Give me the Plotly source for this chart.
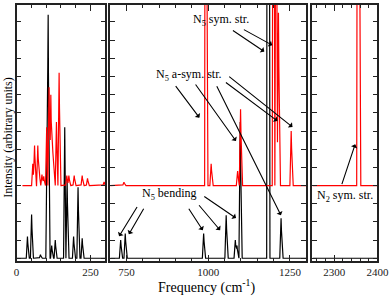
import numpy as np
import plotly.graph_objects as go

# ---- data (peak positions in cm^-1, heights in arbitrary units) ----
black_p1_pos = [37, 51, 81, 103, 107, 119, 131, 163, 171, 193, 208, 222]
black_p1_h   = [1.2, 2.4, 0.2, 4.5, 13.4, 0.7, 1.0, 7.2, 4.3, 1.2, 3.9, 1.1]
red_p1_pos   = [55, 61, 72, 77, 86, 92, 102, 110, 116, 121, 126, 135, 144, 170, 177, 195, 222, 240, 296]
red_p1_h     = [1.2, 2.2, 2.2, 0.8, 0.6, 0.5, 3.2, 5.4, 5.0, 2.8, 1.6, 3.5, 6.2, 0.55, 0.55, 0.55, 0.55, 0.4, 0.2]

black_p2_pos = [732, 746, 986, 1055, 1083, 1088, 1098, 1183, 1223]
black_p2_h   = [1.0, 1.36, 1.36, 2.36, 1.0, 0.7, 7.5, 100, 2.2]
red_p2_pos   = [742, 993, 1009, 1090, 1099, 1200, 1208, 1215, 1254]
red_p2_h     = [0.18, 60, 1.2, 0.8, 4.2, 40, 25, 9.5, 3.0]

black_p3_pos = []
black_p3_h   = []
red_p3_pos   = [2356]
red_p3_h     = [60]

red_offset = 4.0
x_ranges = [(0, 300), (700, 1300), (2250, 2400)]
red_start = [20, 700, 2250]
halfwidth = 4.0

RED = "#ff0000"
BLACK = "#000000"
FONT = "Liberation Serif"


def spectrum(x0, x1, pos, h, offset):
    x = np.arange(x0, x1 + 0.25, 0.25)
    y = np.zeros_like(x)
    for p, a in zip(pos, h):
        y += a * np.clip(1 - np.abs(x - p) / halfwidth, 0, None)
    return x, y + offset


fig = go.Figure()
panels = [
    (black_p1_pos, black_p1_h, red_p1_pos, red_p1_h),
    (black_p2_pos, black_p2_h, red_p2_pos, red_p2_h),
    (black_p3_pos, black_p3_h, red_p3_pos, red_p3_h),
]
for i, (bp, bh, rp, rh) in enumerate(panels):
    xa = "x" if i == 0 else f"x{i+1}"
    ya = "y" if i == 0 else f"y{i+1}"
    lo, hi = x_ranges[i]
    bx, by = spectrum(lo, hi, bp, bh, 0.0)
    rx, ry = spectrum(red_start[i], hi, rp, rh, red_offset)
    fig.add_trace(go.Scatter(x=bx, y=by, mode="lines", line=dict(color=BLACK, width=1.2),
                             xaxis=xa, yaxis=ya, showlegend=False, hoverinfo="skip"))
    fig.add_trace(go.Scatter(x=rx, y=ry, mode="lines", line=dict(color=RED, width=1.2),
                             xaxis=xa, yaxis=ya, showlegend=False, hoverinfo="skip"))

domains = [[0.0014, 0.2466], [0.2603, 0.8017], [0.8190, 0.9986]]
minor_dt = [50, 50, 20]
major_dt = [250, 250, 100]
yrange = [-0.15, 13.93]

axcommon = dict(showline=True, linecolor="#222", linewidth=1.5, mirror="ticks",
                ticks="inside", tickcolor="#222", showgrid=False, zeroline=False)
for i in range(3):
    sfx = "" if i == 0 else str(i + 1)
    fig.layout["xaxis" + sfx] = dict(
        axcommon, domain=domains[i], range=list(x_ranges[i]), anchor="y" + sfx,
        tick0=0, dtick=major_dt[i], ticklen=6,
        tickfont=dict(family=FONT, size=11, color="#222"),
        minor=dict(ticks="inside", dtick=minor_dt[i], tick0=0, ticklen=3, tickcolor="#222"),
    )
    fig.layout["yaxis" + sfx] = dict(
        axcommon, domain=[0, 1], range=yrange, anchor="x" + sfx,
        tick0=0, dtick=1, ticklen=5, showticklabels=False,
    )

ann = []
tfont = dict(family=FONT, size=12, color="black")
lab = dict(showarrow=False, font=tfont, xanchor="center", yanchor="middle")
ann.append(dict(lab, xref="x2", yref="y2", x=1040, y=13.1, text="N<sub>5</sub> sym. str."))
ann.append(dict(lab, xref="x2", yref="y2", x=940, y=10.1, text="N<sub>5</sub> a-sym. str."))
ann.append(dict(lab, xref="x2", yref="y2", x=882, y=3.56, text="N<sub>5</sub> bending"))
ann.append(dict(lab, xref="x3", yref="y3", x=2325, y=3.45, text="N<sub>2</sub> sym. str."))

arrows2 = [
    # (tail_x, tail_y, head_x, head_y) in panel-2 data coords
    (1071, 12.58, 1171.8, 11.37),
    (1104.6, 12.62, 1196, 11.72),
    (897, 9.55, 973, 7.73),
    (958, 9.64, 1085, 6.45),
    (1024, 9.55, 1222.7, 2.36),
    (1059.7, 10.06, 1258, 7.22),
    (1049.6, 9.73, 1212, 7.55),
    (785, 2.9, 727, 1.21),
    (805, 2.81, 757, 1.32),
    (937.6, 2.81, 983.4, 1.54),
    (968, 3.0, 1036.5, 1.54),
    (983.4, 3.45, 1085, 2.21),
]
arr = dict(text="", showarrow=True, arrowhead=1, arrowsize=1, arrowwidth=1.1,
           arrowcolor="black", standoff=0, startstandoff=0)
for tx, ty, hx, hy in arrows2:
    ann.append(dict(arr, xref="x2", yref="y2", axref="x2", ayref="y2", x=hx, y=hy, ax=tx, ay=ty))
ann.append(dict(arr, xref="x3", yref="y3", axref="x3", ayref="y3", x=2348.5, y=6.27, ax=2316.7, ay=4.0))

# axis titles
ann.append(dict(xref="paper", yref="paper", x=-0.0207, y=0.483, text="Intensity (arbitrary units)",
                textangle=-90, showarrow=False, xanchor="center", yanchor="middle",
                font=dict(family=FONT, size=12, color="black")))
ann.append(dict(xref="paper", yref="paper", x=0.529, y=-0.10, text="Frequency (cm<sup>-1</sup>)",
                showarrow=False, xanchor="center", yanchor="middle",
                font=dict(family=FONT, size=14, color="black")))

fig.update_layout(
    width=392, height=297,
    margin=dict(l=16, r=13, t=3, b=36),
    paper_bgcolor="white", plot_bgcolor="white",
    annotations=ann,
)

fig.write_html("out.html", config={"displayModeBar": False},
               post_script="document.body.style.margin='0';")
